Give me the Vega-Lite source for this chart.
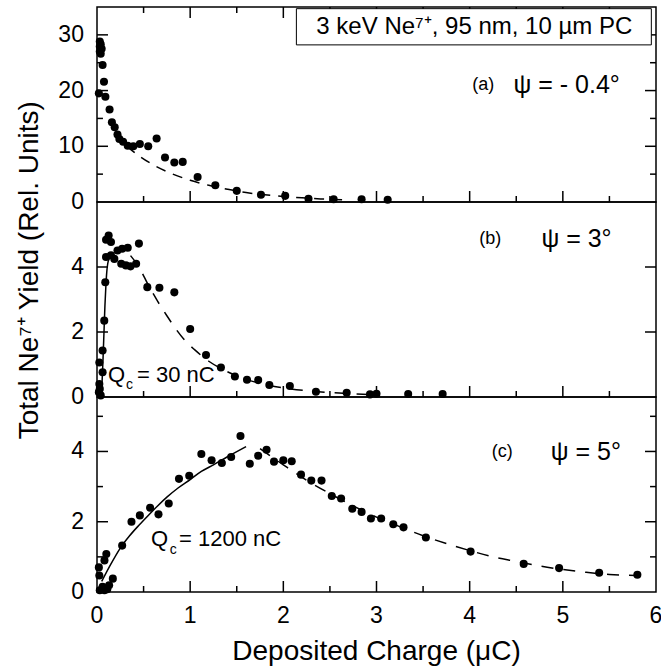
{
  "$schema": "https://vega.github.io/schema/vega-lite/v6.json",
  "padding": {"left": 5, "top": 5, "right": 5, "bottom": 75},
  "background": "white",
  "config": {
    "font": "Liberation Sans",
    "view": {"stroke": "black", "strokeWidth": 1.5}
  },
  "datasets": {
    "a_pts": [
      {"x": 0.03, "y": 28.8}, {"x": 0.04, "y": 28.3}, {"x": 0.03, "y": 27.9}, {"x": 0.05, "y": 27.5}, {"x": 0.03, "y": 27.0}, {"x": 0.04, "y": 26.6},
      {"x": 0.06, "y": 24.6}, {"x": 0.075, "y": 21.6}, {"x": 0.02, "y": 19.5}, {"x": 0.09, "y": 18.9}, {"x": 0.135, "y": 16.6}, {"x": 0.16, "y": 14.3},
      {"x": 0.19, "y": 13.4}, {"x": 0.22, "y": 12.1}, {"x": 0.24, "y": 11.3}, {"x": 0.28, "y": 10.8}, {"x": 0.33, "y": 10.1}, {"x": 0.39, "y": 10.0},
      {"x": 0.46, "y": 10.4}, {"x": 0.55, "y": 10.0}, {"x": 0.64, "y": 11.4}, {"x": 0.73, "y": 8.0}, {"x": 0.83, "y": 7.1}, {"x": 0.92, "y": 7.2},
      {"x": 1.08, "y": 4.5}, {"x": 1.27, "y": 3.0}, {"x": 1.5, "y": 2.0}, {"x": 1.76, "y": 1.3}, {"x": 2.02, "y": 1.1}, {"x": 2.27, "y": 0.6},
      {"x": 2.54, "y": 0.5}, {"x": 2.84, "y": 0.5}, {"x": 3.12, "y": 0.4}
    ],
    "a_fit": [
      {"x": 0.32, "y": 10.0}, {"x": 0.45, "y": 8.3}, {"x": 0.6, "y": 6.7}, {"x": 0.8, "y": 5.1}, {"x": 1.0, "y": 3.9}, {"x": 1.2, "y": 3.0},
      {"x": 1.4, "y": 2.3}, {"x": 1.6, "y": 1.7}, {"x": 1.8, "y": 1.3}, {"x": 2.0, "y": 1.0}, {"x": 2.2, "y": 0.75}, {"x": 2.4, "y": 0.55}, {"x": 2.65, "y": 0.4}
    ],
    "b_pts": [
      {"x": 0.125, "y": 4.97}, {"x": 0.097, "y": 4.84}, {"x": 0.15, "y": 4.77}, {"x": 0.45, "y": 4.72}, {"x": 0.27, "y": 4.56}, {"x": 0.33, "y": 4.59},
      {"x": 0.22, "y": 4.51}, {"x": 0.097, "y": 4.31}, {"x": 0.15, "y": 4.36}, {"x": 0.186, "y": 4.25}, {"x": 0.26, "y": 4.1}, {"x": 0.31, "y": 4.05},
      {"x": 0.36, "y": 4.02}, {"x": 0.42, "y": 4.1}, {"x": 0.089, "y": 3.53}, {"x": 0.078, "y": 2.35}, {"x": 0.06, "y": 1.43}, {"x": 0.025, "y": 1.06},
      {"x": 0.06, "y": 0.76}, {"x": 0.025, "y": 0.4}, {"x": 0.02, "y": 0.15}, {"x": 0.04, "y": 0.05}, {"x": 0.03, "y": 0.25},
      {"x": 0.54, "y": 3.38}, {"x": 0.67, "y": 3.36}, {"x": 0.83, "y": 3.22}, {"x": 1.0, "y": 2.09}, {"x": 1.17, "y": 1.29}, {"x": 1.33, "y": 0.91},
      {"x": 1.48, "y": 0.63}, {"x": 1.61, "y": 0.53}, {"x": 1.73, "y": 0.52}, {"x": 1.85, "y": 0.37}, {"x": 2.07, "y": 0.34}, {"x": 2.35, "y": 0.16},
      {"x": 2.68, "y": 0.13}, {"x": 2.93, "y": 0.08}, {"x": 3.0, "y": 0.1}, {"x": 3.34, "y": 0.09}, {"x": 3.71, "y": 0.09}
    ],
    "b_fit_s": [
      {"x": 0.04, "y": 0.0}, {"x": 0.055, "y": 0.5}, {"x": 0.065, "y": 1.2}, {"x": 0.075, "y": 2.0}, {"x": 0.085, "y": 2.8}, {"x": 0.095, "y": 3.4},
      {"x": 0.105, "y": 3.85}, {"x": 0.115, "y": 4.1}, {"x": 0.13, "y": 4.25}, {"x": 0.15, "y": 4.32}
    ],
    "b_fit_d": [
      {"x": 0.36, "y": 4.35}, {"x": 0.45, "y": 4.0}, {"x": 0.55, "y": 3.45}, {"x": 0.65, "y": 2.95}, {"x": 0.75, "y": 2.5}, {"x": 0.85, "y": 2.08},
      {"x": 0.95, "y": 1.72}, {"x": 1.05, "y": 1.45}, {"x": 1.2, "y": 1.1}, {"x": 1.35, "y": 0.85}, {"x": 1.5, "y": 0.65}, {"x": 1.75, "y": 0.42},
      {"x": 2.0, "y": 0.28}, {"x": 2.3, "y": 0.18}, {"x": 2.6, "y": 0.12}, {"x": 3.0, "y": 0.07}
    ],
    "c_pts": [
      {"x": 1.54, "y": 4.44}, {"x": 1.12, "y": 3.93}, {"x": 1.23, "y": 3.75}, {"x": 1.34, "y": 3.67}, {"x": 1.44, "y": 3.84}, {"x": 1.64, "y": 3.65},
      {"x": 1.73, "y": 3.88}, {"x": 1.82, "y": 4.05}, {"x": 1.9, "y": 3.71}, {"x": 2.0, "y": 3.75}, {"x": 2.09, "y": 3.72}, {"x": 2.19, "y": 3.34},
      {"x": 2.3, "y": 3.17}, {"x": 2.41, "y": 3.17}, {"x": 2.52, "y": 2.73}, {"x": 2.62, "y": 2.66}, {"x": 2.74, "y": 2.37}, {"x": 2.84, "y": 2.28},
      {"x": 2.94, "y": 2.09}, {"x": 3.05, "y": 2.09}, {"x": 3.18, "y": 1.93}, {"x": 3.29, "y": 1.84}, {"x": 3.53, "y": 1.55}, {"x": 4.01, "y": 1.15},
      {"x": 4.58, "y": 0.8}, {"x": 4.96, "y": 0.68}, {"x": 5.39, "y": 0.55}, {"x": 5.8, "y": 0.49}, {"x": 0.99, "y": 3.31}, {"x": 0.88, "y": 3.22},
      {"x": 0.77, "y": 2.52}, {"x": 0.66, "y": 2.21}, {"x": 0.57, "y": 2.4}, {"x": 0.46, "y": 2.18}, {"x": 0.37, "y": 2.0}, {"x": 0.27, "y": 1.32},
      {"x": 0.17, "y": 0.38}, {"x": 0.1, "y": 1.08}, {"x": 0.08, "y": 0.9}, {"x": 0.02, "y": 0.7}, {"x": 0.025, "y": 0.47}, {"x": 0.13, "y": 0.19},
      {"x": 0.06, "y": 0.15}, {"x": 0.03, "y": 0.05}, {"x": 0.08, "y": 0.05}, {"x": 0.11, "y": 0.08}
    ],
    "c_fit_s": [
      {"x": 0.05, "y": 0.3}, {"x": 0.15, "y": 0.8}, {"x": 0.25, "y": 1.25}, {"x": 0.35, "y": 1.6}, {"x": 0.45, "y": 1.9}, {"x": 0.55, "y": 2.18},
      {"x": 0.65, "y": 2.45}, {"x": 0.75, "y": 2.7}, {"x": 0.87, "y": 2.96}, {"x": 1.0, "y": 3.2}, {"x": 1.12, "y": 3.43}, {"x": 1.25, "y": 3.62},
      {"x": 1.4, "y": 3.85}, {"x": 1.6, "y": 4.14}
    ],
    "c_fit_d": [
      {"x": 1.75, "y": 4.08}, {"x": 2.0, "y": 3.62}, {"x": 2.25, "y": 3.18}, {"x": 2.5, "y": 2.8}, {"x": 2.75, "y": 2.45}, {"x": 3.0, "y": 2.13},
      {"x": 3.25, "y": 1.86}, {"x": 3.5, "y": 1.6}, {"x": 3.75, "y": 1.38}, {"x": 4.0, "y": 1.18}, {"x": 4.25, "y": 1.0}, {"x": 4.5, "y": 0.87},
      {"x": 4.75, "y": 0.74}, {"x": 5.0, "y": 0.64}, {"x": 5.25, "y": 0.56}, {"x": 5.5, "y": 0.5}, {"x": 5.78, "y": 0.47}
    ],
    "one": [{"k": 1}],
    "xmaj": [{"v": 1}, {"v": 2}, {"v": 3}, {"v": 4}, {"v": 5}],
    "xmin": [{"v": 0.5}, {"v": 1.5}, {"v": 2.5}, {"v": 3.5}, {"v": 4.5}, {"v": 5.5}],
    "xlab": [{"v": 0}, {"v": 1}, {"v": 2}, {"v": 3}, {"v": 4}, {"v": 5}, {"v": 6}],
    "a_ylab": [{"v": 0}, {"v": 10}, {"v": 20}, {"v": 30}],
    "a_ymaj": [{"v": 10}, {"v": 20}, {"v": 30}],
    "a_ymin": [{"v": 5}, {"v": 15}, {"v": 25}],
    "bc_ylab": [{"v": 0}, {"v": 2}, {"v": 4}],
    "bc_ymaj": [{"v": 2}, {"v": 4}],
    "c_ymin": [{"v": 1}, {"v": 3}, {"v": 5}]
  },
  "spacing": 2,
  "hconcat": [
    {
      "width": 50, "height": 585,
      "view": {"stroke": null},
      "data": {"name": "one"},
      "mark": {"type": "text", "text": "Total Ne⁷⁺ Yield (Rel. Units)", "angle": 270, "fontSize": 28, "align": "center", "baseline": "middle", "color": "black"},
      "encoding": {
        "x": {"datum": 0.5, "type": "quantitative", "scale": {"domain": [0, 1]}, "axis": null},
        "y": {"datum": 0.55, "type": "quantitative", "scale": {"domain": [0, 1]}, "axis": null}
      }
    },
    {
      "spacing": 0,
      "bounds": "flush",
      "vconcat": [
        {
          "width": 559, "height": 195,
          "layer": [
            {
              "data": {"name": "a_fit"},
              "mark": {"type": "line", "color": "black", "strokeWidth": 1.5, "strokeDash": [10, 8], "interpolate": "monotone"},
              "encoding": {
                "x": {"field": "x", "type": "quantitative", "axis": null},
                "y": {"field": "y", "type": "quantitative", "axis": null}
              }
            },
            {
              "data": {"name": "a_pts"},
              "mark": {"type": "circle", "color": "black", "opacity": 1, "size": 65},
              "encoding": {
                "x": {"field": "x", "type": "quantitative", "scale": {"domain": [0, 6]}, "axis": null},
                "y": {"field": "y", "type": "quantitative", "scale": {"domain": [0, 35], "nice": false}, "axis": null}
              }
            },
            {"data": {"name": "a_ylab"}, "mark": {"type": "text", "fontSize": 23, "align": "right", "baseline": "middle", "color": "black"},
             "encoding": {"y": {"field": "v", "type": "quantitative", "axis": null}, "x": {"datum": -0.14, "type": "quantitative", "axis": null}, "text": {"field": "v", "type": "quantitative"}}},
            {"data": {"name": "xmaj"}, "mark": {"type": "rule", "color": "black", "strokeWidth": 1.5},
             "encoding": {"x": {"field": "v", "type": "quantitative", "axis": null}, "y": {"datum": 0, "type": "quantitative", "axis": null}, "y2": {"datum": 1.97}}},
            {"data": {"name": "xmin"}, "mark": {"type": "rule", "color": "black", "strokeWidth": 1.5},
             "encoding": {"x": {"field": "v", "type": "quantitative", "axis": null}, "y": {"datum": 0, "type": "quantitative", "axis": null}, "y2": {"datum": 1.08}}},
            {"data": {"name": "xmaj"}, "mark": {"type": "rule", "color": "black", "strokeWidth": 1.5},
             "encoding": {"x": {"field": "v", "type": "quantitative", "axis": null}, "y": {"datum": 35, "type": "quantitative", "axis": null}, "y2": {"datum": 33.03}}},
            {"data": {"name": "xmin"}, "mark": {"type": "rule", "color": "black", "strokeWidth": 1.5},
             "encoding": {"x": {"field": "v", "type": "quantitative", "axis": null}, "y": {"datum": 35, "type": "quantitative", "axis": null}, "y2": {"datum": 33.92}}},
            {"data": {"name": "a_ymaj"}, "mark": {"type": "rule", "color": "black", "strokeWidth": 1.5},
             "encoding": {"y": {"field": "v", "type": "quantitative", "axis": null}, "x": {"datum": 0, "type": "quantitative", "axis": null}, "x2": {"datum": 0.118}}},
            {"data": {"name": "a_ymin"}, "mark": {"type": "rule", "color": "black", "strokeWidth": 1.5},
             "encoding": {"y": {"field": "v", "type": "quantitative", "axis": null}, "x": {"datum": 0, "type": "quantitative", "axis": null}, "x2": {"datum": 0.064}}},
            {"data": {"name": "a_ymaj"}, "mark": {"type": "rule", "color": "black", "strokeWidth": 1.5},
             "encoding": {"y": {"field": "v", "type": "quantitative", "axis": null}, "x": {"datum": 6, "type": "quantitative", "axis": null}, "x2": {"datum": 5.882}}},
            {"data": {"name": "a_ymin"}, "mark": {"type": "rule", "color": "black", "strokeWidth": 1.5},
             "encoding": {"y": {"field": "v", "type": "quantitative", "axis": null}, "x": {"datum": 6, "type": "quantitative", "axis": null}, "x2": {"datum": 5.936}}},
            {
              "data": {"name": "one"},
              "mark": {"type": "rect", "fill": "white", "stroke": "black", "strokeWidth": 1},
              "encoding": {
                "x": {"datum": 2.14, "type": "quantitative", "axis": null}, "x2": {"datum": 5.95},
                "y": {"datum": 34.7, "type": "quantitative", "axis": null}, "y2": {"datum": 28.2}
              }
            },
            {
              "data": {"name": "one"},
              "mark": {"type": "text", "text": "3 keV Ne⁷⁺, 95 nm, 10 µm PC", "fontSize": 24, "align": "center", "baseline": "middle", "color": "black"},
              "encoding": {"x": {"datum": 4.05, "type": "quantitative", "axis": null}, "y": {"datum": 31.4, "type": "quantitative", "axis": null}}
            },
            {
              "data": {"name": "one"},
              "mark": {"type": "text", "text": "(a)", "fontSize": 18, "align": "center", "baseline": "middle", "color": "black"},
              "encoding": {"x": {"datum": 4.145, "type": "quantitative", "axis": null}, "y": {"datum": 21.0, "type": "quantitative", "axis": null}}
            },
            {
              "data": {"name": "one"},
              "mark": {"type": "text", "text": "ψ = - 0.4°", "fontSize": 25, "align": "left", "baseline": "middle", "color": "black"},
              "encoding": {"x": {"datum": 4.47, "type": "quantitative", "axis": null}, "y": {"datum": 21.0, "type": "quantitative", "axis": null}}
            }
          ]
        },
        {
          "width": 559, "height": 195,
          "layer": [
            {
              "data": {"name": "b_fit_d"},
              "mark": {"type": "line", "color": "black", "strokeWidth": 1.5, "strokeDash": [12, 10], "interpolate": "monotone"},
              "encoding": {
                "x": {"field": "x", "type": "quantitative", "axis": null},
                "y": {"field": "y", "type": "quantitative", "axis": null}
              }
            },
            {
              "data": {"name": "b_fit_s"},
              "mark": {"type": "line", "color": "black", "strokeWidth": 1.5, "interpolate": "monotone"},
              "encoding": {
                "x": {"field": "x", "type": "quantitative", "axis": null},
                "y": {"field": "y", "type": "quantitative", "axis": null}
              }
            },
            {
              "data": {"name": "b_pts"},
              "mark": {"type": "circle", "color": "black", "opacity": 1, "size": 65},
              "encoding": {
                "x": {"field": "x", "type": "quantitative", "scale": {"domain": [0, 6]}, "axis": null},
                "y": {"field": "y", "type": "quantitative", "scale": {"domain": [0, 6], "nice": false}, "axis": null}
              }
            },
            {"data": {"name": "bc_ylab"}, "mark": {"type": "text", "fontSize": 23, "align": "right", "baseline": "middle", "color": "black"},
             "encoding": {"y": {"field": "v", "type": "quantitative", "axis": null}, "x": {"datum": -0.14, "type": "quantitative", "axis": null}, "text": {"field": "v", "type": "quantitative"}}},
            {"data": {"name": "xmaj"}, "mark": {"type": "rule", "color": "black", "strokeWidth": 1.5},
             "encoding": {"x": {"field": "v", "type": "quantitative", "axis": null}, "y": {"datum": 0, "type": "quantitative", "axis": null}, "y2": {"datum": 0.338}}},
            {"data": {"name": "xmin"}, "mark": {"type": "rule", "color": "black", "strokeWidth": 1.5},
             "encoding": {"x": {"field": "v", "type": "quantitative", "axis": null}, "y": {"datum": 0, "type": "quantitative", "axis": null}, "y2": {"datum": 0.185}}},
            {"data": {"name": "bc_ymaj"}, "mark": {"type": "rule", "color": "black", "strokeWidth": 1.5},
             "encoding": {"y": {"field": "v", "type": "quantitative", "axis": null}, "x": {"datum": 0, "type": "quantitative", "axis": null}, "x2": {"datum": 0.118}}},
            {"data": {"name": "bc_ymaj"}, "mark": {"type": "rule", "color": "black", "strokeWidth": 1.5},
             "encoding": {"y": {"field": "v", "type": "quantitative", "axis": null}, "x": {"datum": 6, "type": "quantitative", "axis": null}, "x2": {"datum": 5.882}}},
            {
              "data": {"name": "one"},
              "mark": {"type": "text", "text": "(b)", "fontSize": 18, "align": "center", "baseline": "middle", "color": "black"},
              "encoding": {"x": {"datum": 4.22, "type": "quantitative", "axis": null}, "y": {"datum": 4.86, "type": "quantitative", "axis": null}}
            },
            {
              "data": {"name": "one"},
              "mark": {"type": "text", "text": "ψ = 3°", "fontSize": 25, "align": "left", "baseline": "middle", "color": "black"},
              "encoding": {"x": {"datum": 4.77, "type": "quantitative", "axis": null}, "y": {"datum": 4.86, "type": "quantitative", "axis": null}}
            },
            {
              "data": {"name": "one"},
              "mark": {"type": "text", "text": "Q", "fontSize": 22, "align": "left", "baseline": "middle", "color": "black"},
              "encoding": {"x": {"datum": 0.118, "type": "quantitative", "axis": null}, "y": {"datum": 0.68, "type": "quantitative", "axis": null}}
            },
            {
              "data": {"name": "one"},
              "mark": {"type": "text", "text": "c", "fontSize": 14, "align": "left", "baseline": "middle", "color": "black"},
              "encoding": {"x": {"datum": 0.31, "type": "quantitative", "axis": null}, "y": {"datum": 0.37, "type": "quantitative", "axis": null}}
            },
            {
              "data": {"name": "one"},
              "mark": {"type": "text", "text": "= 30 nC", "fontSize": 22, "align": "left", "baseline": "middle", "color": "black"},
              "encoding": {"x": {"datum": 0.43, "type": "quantitative", "axis": null}, "y": {"datum": 0.68, "type": "quantitative", "axis": null}}
            }
          ]
        },
        {
          "width": 559, "height": 195,
          "layer": [
            {
              "data": {"name": "c_fit_d"},
              "mark": {"type": "line", "color": "black", "strokeWidth": 1.5, "strokeDash": [12, 10], "interpolate": "monotone"},
              "encoding": {
                "x": {"field": "x", "type": "quantitative", "axis": null},
                "y": {"field": "y", "type": "quantitative", "axis": null}
              }
            },
            {
              "data": {"name": "c_fit_s"},
              "mark": {"type": "line", "color": "black", "strokeWidth": 1.5, "interpolate": "monotone"},
              "encoding": {
                "x": {"field": "x", "type": "quantitative", "axis": null},
                "y": {"field": "y", "type": "quantitative", "axis": null}
              }
            },
            {
              "data": {"name": "c_pts"},
              "mark": {"type": "circle", "color": "black", "opacity": 1, "size": 65},
              "encoding": {
                "x": {"field": "x", "type": "quantitative", "scale": {"domain": [0, 6]}, "axis": null},
                "y": {"field": "y", "type": "quantitative", "scale": {"domain": [0, 5.55], "nice": false}, "axis": null}
              }
            },
            {"data": {"name": "bc_ylab"}, "mark": {"type": "text", "fontSize": 23, "align": "right", "baseline": "middle", "color": "black"},
             "encoding": {"y": {"field": "v", "type": "quantitative", "axis": null}, "x": {"datum": -0.14, "type": "quantitative", "axis": null}, "text": {"field": "v", "type": "quantitative"}}},
            {"data": {"name": "xmaj"}, "mark": {"type": "rule", "color": "black", "strokeWidth": 1.5},
             "encoding": {"x": {"field": "v", "type": "quantitative", "axis": null}, "y": {"datum": 0, "type": "quantitative", "axis": null}, "y2": {"datum": 0.313}}},
            {"data": {"name": "xmin"}, "mark": {"type": "rule", "color": "black", "strokeWidth": 1.5},
             "encoding": {"x": {"field": "v", "type": "quantitative", "axis": null}, "y": {"datum": 0, "type": "quantitative", "axis": null}, "y2": {"datum": 0.171}}},
            {"data": {"name": "bc_ymaj"}, "mark": {"type": "rule", "color": "black", "strokeWidth": 1.5},
             "encoding": {"y": {"field": "v", "type": "quantitative", "axis": null}, "x": {"datum": 0, "type": "quantitative", "axis": null}, "x2": {"datum": 0.118}}},
            {"data": {"name": "c_ymin"}, "mark": {"type": "rule", "color": "black", "strokeWidth": 1.5},
             "encoding": {"y": {"field": "v", "type": "quantitative", "axis": null}, "x": {"datum": 0, "type": "quantitative", "axis": null}, "x2": {"datum": 0.064}}},
            {"data": {"name": "bc_ymaj"}, "mark": {"type": "rule", "color": "black", "strokeWidth": 1.5},
             "encoding": {"y": {"field": "v", "type": "quantitative", "axis": null}, "x": {"datum": 6, "type": "quantitative", "axis": null}, "x2": {"datum": 5.882}}},
            {"data": {"name": "c_ymin"}, "mark": {"type": "rule", "color": "black", "strokeWidth": 1.5},
             "encoding": {"y": {"field": "v", "type": "quantitative", "axis": null}, "x": {"datum": 6, "type": "quantitative", "axis": null}, "x2": {"datum": 5.936}}},
            {"data": {"name": "xlab"}, "mark": {"type": "text", "fontSize": 23, "align": "center", "baseline": "middle", "color": "black"},
             "encoding": {"x": {"field": "v", "type": "quantitative", "axis": null}, "y": {"datum": -0.68, "type": "quantitative", "axis": null}, "text": {"field": "v", "type": "quantitative"}}},
            {
              "data": {"name": "one"},
              "mark": {"type": "text", "text": "Deposited Charge (μC)", "fontSize": 28, "align": "center", "baseline": "middle", "color": "black"},
              "encoding": {"x": {"datum": 3, "type": "quantitative", "axis": null}, "y": {"datum": -1.72, "type": "quantitative", "axis": null}}
            },
            {
              "data": {"name": "one"},
              "mark": {"type": "text", "text": "(c)", "fontSize": 18, "align": "center", "baseline": "middle", "color": "black"},
              "encoding": {"x": {"datum": 4.35, "type": "quantitative", "axis": null}, "y": {"datum": 3.98, "type": "quantitative", "axis": null}}
            },
            {
              "data": {"name": "one"},
              "mark": {"type": "text", "text": "ψ = 5°", "fontSize": 25, "align": "left", "baseline": "middle", "color": "black"},
              "encoding": {"x": {"datum": 4.87, "type": "quantitative", "axis": null}, "y": {"datum": 3.98, "type": "quantitative", "axis": null}}
            },
            {
              "data": {"name": "one"},
              "mark": {"type": "text", "text": "Q", "fontSize": 22, "align": "left", "baseline": "middle", "color": "black"},
              "encoding": {"x": {"datum": 0.58, "type": "quantitative", "axis": null}, "y": {"datum": 1.52, "type": "quantitative", "axis": null}}
            },
            {
              "data": {"name": "one"},
              "mark": {"type": "text", "text": "c", "fontSize": 14, "align": "left", "baseline": "middle", "color": "black"},
              "encoding": {"x": {"datum": 0.78, "type": "quantitative", "axis": null}, "y": {"datum": 1.2, "type": "quantitative", "axis": null}}
            },
            {
              "data": {"name": "one"},
              "mark": {"type": "text", "text": "= 1200 nC", "fontSize": 22, "align": "left", "baseline": "middle", "color": "black"},
              "encoding": {"x": {"datum": 0.88, "type": "quantitative", "axis": null}, "y": {"datum": 1.52, "type": "quantitative", "axis": null}}
            }
          ]
        }
      ]
    }
  ]
}
